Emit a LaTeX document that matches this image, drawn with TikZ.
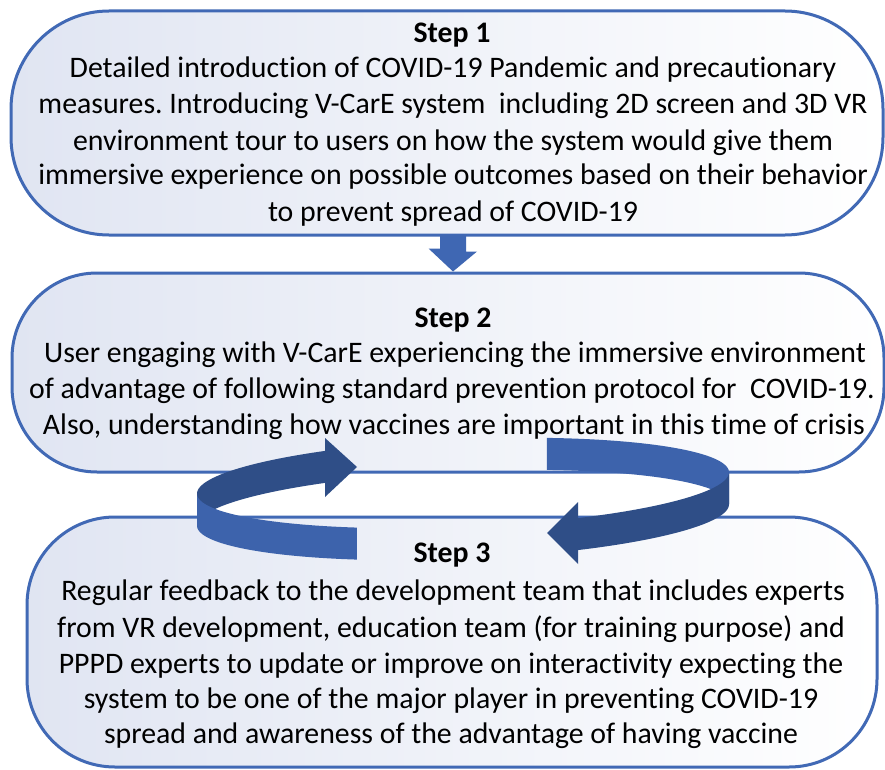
\documentclass[tikz,border=0pt]{standalone}
\usepackage{fontspec}
\setmainfont{Carlito}[Ligatures=NoCommon]
\frenchspacing
\definecolor{boxline}{HTML}{4169B5}
\definecolor{boxtint}{HTML}{E0E5F2}
\definecolor{downblue}{HTML}{3F67B3}
\definecolor{ringlight}{HTML}{3D63AC}
\definecolor{ringdark}{HTML}{2F4E87}
\begin{document}
\begin{tikzpicture}[x=1pt,y=-1pt,
  stepbox/.style={draw=boxline, line width=3pt, left color=boxtint, right color=white, inner sep=0pt},
  txt/.style={anchor=base, inner sep=0pt, font=\fontsize{29.8pt}{35.5pt}\selectfont},
  steplbl/.style={txt, font=\fontsize{29.8pt}{35.5pt}\selectfont\bfseries}]
\useasboundingbox (0,0) rectangle (885,770);
\fill[white] (0,0) rectangle (885,770);
% boxes
\node[stepbox, minimum width=872pt, minimum height=224pt, rounded corners=98pt] (box1) at (447,123) {};
\node[stepbox, minimum width=872pt, minimum height=199pt, rounded corners=85pt] (box2) at (448,372.5) {};
\node[stepbox, minimum width=850pt, minimum height=250pt, rounded corners=88pt] (box3) at (452,642) {};
% box 1 text
\node[steplbl] (s1) at (452,43) {Step 1};
\node[txt] (t11) at (453,78) {Detailed introduction of COVID-19 Pandemic and precautionary};
\node[txt] (t12) at (453,114) {measures. Introducing V-CarE system\ \ including 2D screen and 3D VR};
\node[txt] (t13) at (453,150) {environment tour to users on how the system would give them};
\node[txt] (t14) at (453,185) {immersive experience on possible outcomes based on their behavior};
\node[txt] (t15) at (453,221) {to prevent spread of COVID-19};
% box 2 text
\node[steplbl] (s2) at (453,327) {Step 2};
\node[txt] (t21) at (455,362) {User engaging with V-CarE experiencing the immersive environment};
\node[txt] (t22) at (452,398) {of advantage of following standard prevention protocol for\ \ COVID-19.};
\node[txt] (t23) at (454,434) {Also, understanding how vaccines are important in this time of crisis};
% box 3 text
\node[steplbl] (s3) at (452,562) {Step 3};
\node[txt] (t31) at (453,600) {Regular feedback to the development team that includes experts};
\node[txt] (t32) at (451,637) {from VR development, education team (for training purpose) and};
\node[txt] (t33) at (451,673) {PPPD experts to update or improve on interactivity expecting the};
\node[txt] (t34) at (451,708) {system to be one of the major player in preventing COVID-19};
\node[txt] (t35) at (451,743) {spread and awareness of the advantage of having vaccine};
% down arrow from step 1 to step 2
\coordinate (axis) at (453,0);
\fill[downblue] (box1.south -| axis) ++(-13,-2) -- ++(26,0) -- ++(0,17) -- ++(11,0)
  -- (box2.north -| axis) -- ++(-24.5,-23) -- ++(11.5,0) -- cycle;
% circular ribbon arrows
\fill[ringdark] plot[domain=180:238.7, samples=40, variable=\t] ({463+266*cos(\t)},{483-10.64*cos(\t)+44*sin(\t)})
  -- plot[domain=238.7:180, samples=40, variable=\t] ({463+266*cos(\t)},{515-10.64*cos(\t)+44*sin(\t)}) -- cycle;
\fill[ringdark] (325,438) -- (357,467) -- (325,497) -- cycle;
\fill[ringlight] plot[domain=288.4:360, samples=40, variable=\t] ({463+266*cos(\t)},{483-10.64*cos(\t)+44*sin(\t)})
  -- plot[domain=360:288.4, samples=40, variable=\t] ({463+266*cos(\t)},{515-10.64*cos(\t)+44*sin(\t)}) -- cycle;
\fill[ringlight] plot[domain=113.5:180, samples=40, variable=\t] ({463+266*cos(\t)},{483-10.64*cos(\t)+44*sin(\t)})
  -- plot[domain=180:113.5, samples=40, variable=\t] ({463+266*cos(\t)},{515-10.64*cos(\t)+44*sin(\t)}) -- cycle;
\fill[ringdark] plot[domain=0:64.4, samples=40, variable=\t] ({463+266*cos(\t)},{483-10.64*cos(\t)+44*sin(\t)})
  -- plot[domain=64.4:0, samples=40, variable=\t] ({463+266*cos(\t)},{515-10.64*cos(\t)+44*sin(\t)}) -- cycle;
\fill[ringdark] (578,502) -- (547,533) -- (578,564) -- cycle;
\end{tikzpicture}
\end{document}
